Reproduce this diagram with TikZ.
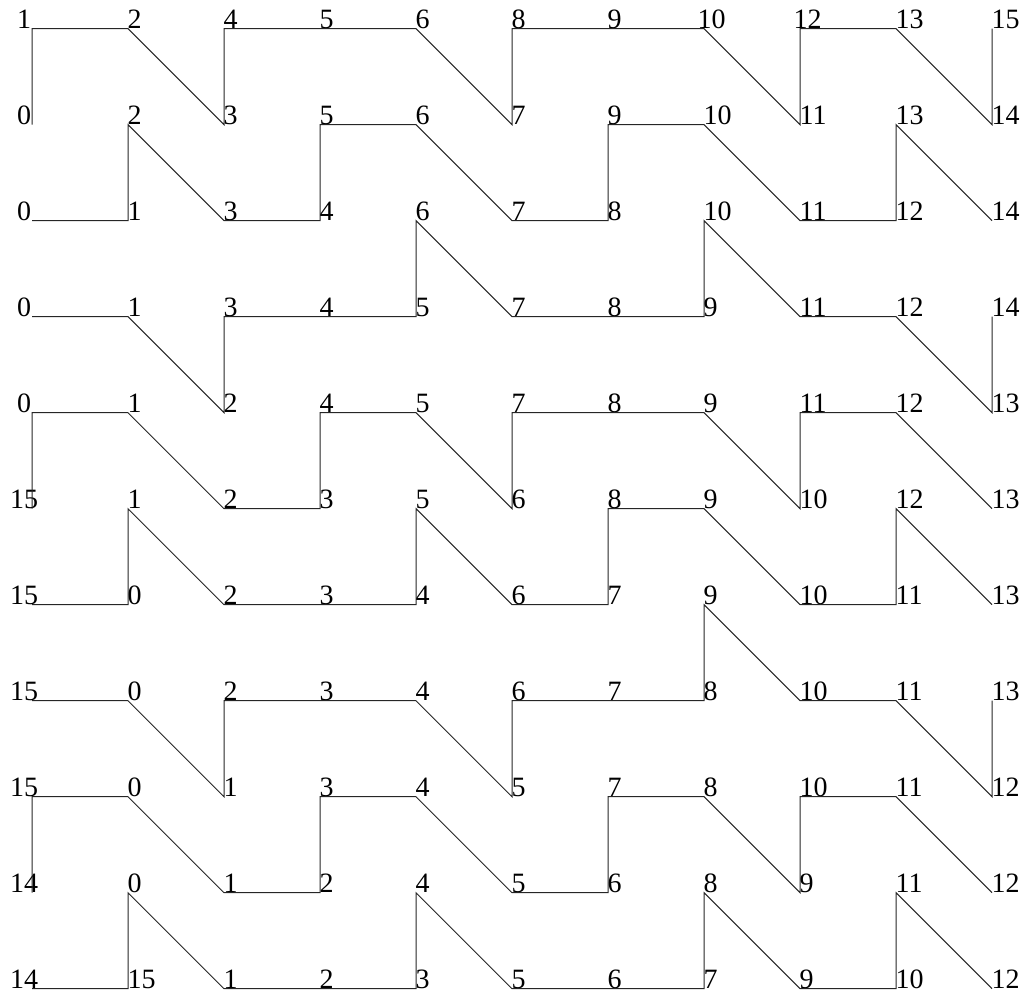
\documentclass[tikz,border=0pt]{standalone}
\usepackage{fontspec}
\setmainfont{Liberation Serif}
\begin{document}
\begin{tikzpicture}[x=1pt,y=-1pt,
  lbl/.style={font=\fontsize{28}{28}\selectfont, inner sep=0pt, anchor=base west},
  lblc/.style={font=\fontsize{28}{28}\selectfont, inner sep=0pt, anchor=base},
  seg/.style={line width=1pt, black!85, line join=miter}]
\useasboundingbox (0,0) rectangle (1029,997);
\foreach \L/\labs in {
  0/{1,2,4,5,6,8,9,10,12,13,15},
  1/{0,2,3,5,6,7,9,10,11,13,14},
  2/{0,1,3,4,6,7,8,10,11,12,14},
  3/{0,1,3,4,5,7,8,9,11,12,14},
  4/{0,1,2,4,5,7,8,9,11,12,13},
  5/{15,1,2,3,5,6,8,9,10,12,13},
  6/{15,0,2,3,4,6,7,9,10,11,13},
  7/{15,0,2,3,4,6,7,8,10,11,13},
  8/{15,0,1,3,4,5,7,8,10,11,12},
  9/{14,0,1,2,4,5,6,8,9,11,12},
  10/{14,15,1,2,3,5,6,7,9,10,12}} {
  \foreach \t [count=\i from 0] in \labs {
    \coordinate (p\i-\L) at ({32+96*\i},{28.7+96*\L});
    \pgfmathsetmacro\dx{(\L==0)*((\i==7)+(\i==8))*(-6)}
    \ifnum\i=0
      \node[lblc] (t\i-\L) at (24,{28+96*\L}) {\t};
    \else
      \node[lbl] (t\i-\L) at ({31.5+96*\i+\dx},{28+96*\L}) {\t};
    \fi
  }
}
% row 1
\draw[seg] (p0-1) \foreach \c/\l in {0/0,1/0,2/1,2/0,3/0,4/0,5/1,5/0,6/0,7/0,8/1,8/0,9/0,10/1,10/0} { -- (p\c-\l) };
% row 2
\draw[seg] (p0-2) \foreach \c/\l in {1/2,1/1,2/2,3/2,3/1,4/1,5/2,6/2,6/1,7/1,8/2,9/2,9/1,10/2} { -- (p\c-\l) };
% row 3
\draw[seg] (p0-3) \foreach \c/\l in {1/3,2/4,2/3,3/3,4/3,4/2,5/3,6/3,7/3,7/2,8/3,9/3,10/4,10/3} { -- (p\c-\l) };
% row 4
\draw[seg] (p0-5) \foreach \c/\l in {0/4,1/4,2/5,3/5,3/4,4/4,5/5,5/4,6/4,7/4,8/5,8/4,9/4,10/5} { -- (p\c-\l) };
% row 5
\draw[seg] (p0-6) \foreach \c/\l in {1/6,1/5,2/6,3/6,4/6,4/5,5/6,6/6,6/5,7/5,8/6,9/6,9/5,10/6} { -- (p\c-\l) };
% row 6
\draw[seg] (p0-7) \foreach \c/\l in {1/7,2/8,2/7,3/7,4/7,5/8,5/7,6/7,7/7,7/6,8/7,9/7,10/8,10/7} { -- (p\c-\l) };
% row 7
\draw[seg] (p0-9) \foreach \c/\l in {0/8,1/8,2/9,3/9,3/8,4/8,5/9,6/9,6/8,7/8,8/9,8/8,9/8,10/9} { -- (p\c-\l) };
% row 8
\draw[seg] (p0-10) \foreach \c/\l in {1/10,1/9,2/10,3/10,4/10,4/9,5/10,6/10,7/10,7/9,8/10,9/10,9/9,10/10} { -- (p\c-\l) };
\end{tikzpicture}
\end{document}
